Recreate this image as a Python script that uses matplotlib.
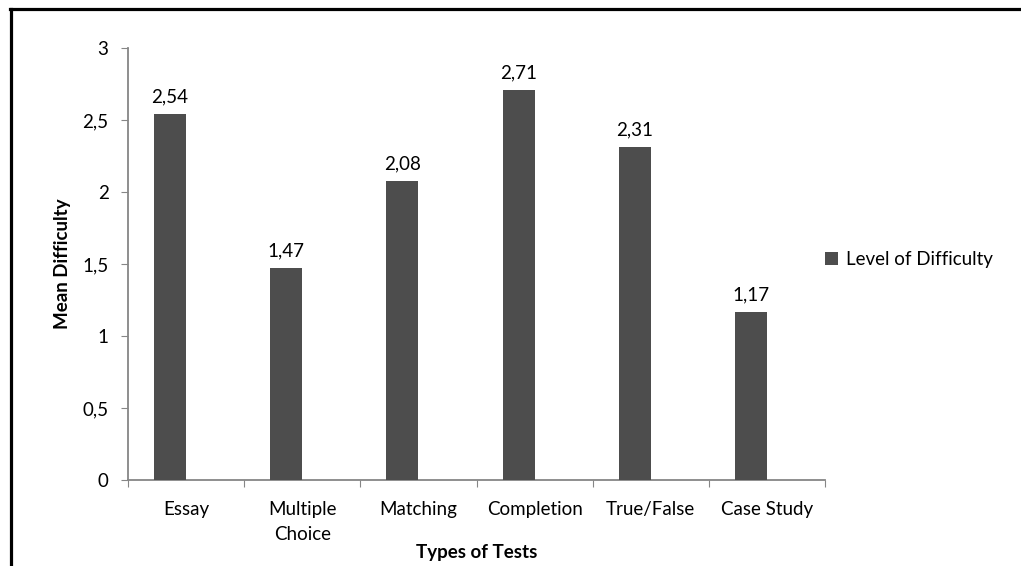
import matplotlib.pyplot as plt
from matplotlib.lines import Line2D
from matplotlib.ticker import FuncFormatter
import numpy as np

categories = ['Essay', 'Multiple\nChoice', 'Matching', 'Completion', 'True/False', 'Case Study']
values = [2.54, 1.47, 2.08, 2.71, 2.31, 1.17]
series_name = 'Level of Difficulty'

plt.rcParams['font.family'] = ['Lato', 'DejaVu Sans']
plt.rcParams['font.size'] = 13.5

fig = plt.figure(figsize=(10.21, 5.66), dpi=100)
ax = fig.add_axes([0.1254, 0.152, 0.6826, 0.763])

x = np.arange(len(categories))
# bars sit left of the category centre, as in the original layout
bars = ax.bar(x - 0.138, values, width=0.276, color='#4d4d4d', label=series_name, zorder=3)

for b, v in zip(bars, values):
    ax.text(b.get_x() + b.get_width() / 2, v + 0.06, f'{v:.2f}'.replace('.', ','),
            ha='center', va='bottom')

ax.set_xlim(-0.5, len(categories) - 0.5)
ax.set_ylim(0, 3)
ax.set_yticks(np.arange(0, 3.01, 0.5))
ax.yaxis.set_major_formatter(FuncFormatter(lambda v, p: f'{v:g}'.replace('.', ',')))

ax.set_xticks(np.arange(-0.5, len(categories)), minor=False)
ax.set_xticklabels([])
ax.set_xticks(x, minor=True)
ax.set_xticklabels(categories, minor=True, linespacing=1.55)
ax.tick_params(axis='x', which='minor', length=0, pad=15)
ax.tick_params(axis='x', which='major', length=5, color='#868686', direction='out')
ax.tick_params(axis='y', length=5, color='#868686', direction='out', pad=9)

for s in ['top', 'right']:
    ax.spines[s].set_visible(False)
for s in ['left', 'bottom']:
    ax.spines[s].set_color('#868686')
    ax.spines[s].set_linewidth(1.3)

ax.set_ylabel('Mean Difficulty', fontweight='bold', labelpad=8)
ax.set_xlabel('Types of Tests', fontweight='bold', labelpad=1)

ax.legend(loc='center left', bbox_to_anchor=(1.0, 0.51), frameon=False,
          borderaxespad=0, borderpad=0,
          handlelength=0.7, handleheight=0.7, handletextpad=0.4)

# outer frame
fig.add_artist(Line2D([10 / 1021, 1.0], [1 - 9 / 566, 1 - 9 / 566],
                      transform=fig.transFigure, color='black', linewidth=2.3))
fig.add_artist(Line2D([11 / 1021, 11 / 1021], [0, 1 - 9 / 566],
                      transform=fig.transFigure, color='black', linewidth=2.3))

fig.savefig('out.png', dpi=100)
